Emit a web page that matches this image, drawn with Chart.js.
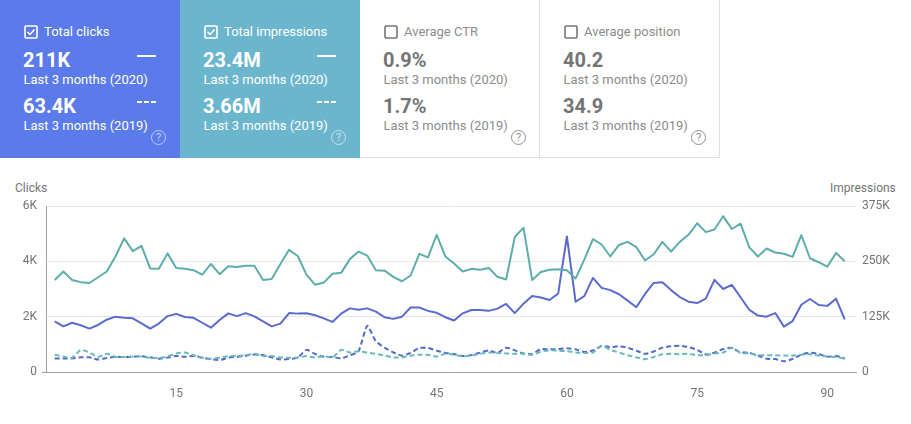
<!DOCTYPE html>
<html lang="en">
  <head>
    <meta charset="UTF-8" />
    <title>Search performance</title>
    <script src="https://cdnjs.cloudflare.com/ajax/libs/Chart.js/4.4.1/chart.umd.js"></script>
    <style>
      html, body { margin: 0; padding: 0; background: #fff; overflow: hidden; }
      body { width: 911px; height: 424px; position: relative; font-family: Roboto, Arial, sans-serif; }
      .card { position: absolute; top: 0; width: 180px; height: 158px; box-sizing: border-box; color: #757575; }
      .card.blue { left: 0; background: #5b7bea; color: #fff; }
      .card.teal { left: 180px; background: #6cb6cd; color: #fff; }
      .card.ctr { left: 360px; border-bottom: 1px solid #e0e0e0; border-right: 1px solid #e0e0e0; }
      .card.pos { left: 540px; border-bottom: 1px solid #e0e0e0; border-right: 1px solid #e0e0e0; }
      .card div, .card svg { position: absolute; white-space: nowrap; }
      .ctr .name, .pos .name, .ctr .sub, .pos .sub { color: #8c8c8c; }
      .box { left: 24px; top: 25px; width: 14px; height: 14px; }
      .name { left: 44px; top: 24px; font-size: 13px; line-height: 15px; }
      .val { left: 23px; font-size: 20px; line-height: 24px; font-weight: 700; }
      .sub { left: 23.5px; font-size: 13px; line-height: 15px; }
      .v1 { top: 48px; } .s1 { top: 72px; } .v2 { top: 94px; } .s2 { top: 118px; }
      .key { left: 137px; width: 19px; height: 2px; }
      .k1 { top: 55px; background: #fff; }
      .k2 { top: 101px; background: repeating-linear-gradient(to right, #fff 0, #fff 5px, transparent 5px, transparent 7px); }
      .help { left: 151px; top: 130px; width: 13px; height: 13px; border: 1px solid; border-radius: 50%; font-size: 11px; line-height: 13px; text-align: center; opacity: 0.8; }
      .blue .help, .teal .help { opacity: 0.6; }
      .axis-name { position: absolute; top: 181px; font-size: 12px; line-height: 14px; color: #757575; }
      #wrap { position: absolute; left: 0; top: 171px; width: 911px; height: 240px; }
    </style>
  </head>
  <body>
    <div class="card blue">
      <svg class="box" viewBox="0 0 14 14"><rect x="1" y="1" width="12" height="12" rx="1" fill="none" stroke="#fff" stroke-width="1.6"/><path d="M3.5 7l2.5 2.5 4.5-5" fill="none" stroke="#fff" stroke-width="1.5"/></svg>
      <div class="name">Total clicks</div>
      <div class="val v1">211K</div><div class="key k1"></div>
      <div class="sub s1">Last 3 months (2020)</div>
      <div class="val v2">63.4K</div><div class="key k2"></div>
      <div class="sub s2">Last 3 months (2019)</div>
      <div class="help">?</div>
    </div>
    <div class="card teal">
      <svg class="box" viewBox="0 0 14 14"><rect x="1" y="1" width="12" height="12" rx="1" fill="none" stroke="#fff" stroke-width="1.6"/><path d="M3.5 7l2.5 2.5 4.5-5" fill="none" stroke="#fff" stroke-width="1.5"/></svg>
      <div class="name">Total impressions</div>
      <div class="val v1">23.4M</div><div class="key k1"></div>
      <div class="sub s1">Last 3 months (2020)</div>
      <div class="val v2">3.66M</div><div class="key k2"></div>
      <div class="sub s2">Last 3 months (2019)</div>
      <div class="help">?</div>
    </div>
    <div class="card ctr">
      <svg class="box" viewBox="0 0 14 14"><rect x="1" y="1" width="12" height="12" rx="1" fill="none" stroke="#757575" stroke-width="1.6"/></svg>
      <div class="name">Average CTR</div>
      <div class="val v1">0.9%</div>
      <div class="sub s1">Last 3 months (2020)</div>
      <div class="val v2">1.7%</div>
      <div class="sub s2">Last 3 months (2019)</div>
      <div class="help">?</div>
    </div>
    <div class="card pos">
      <svg class="box" viewBox="0 0 14 14"><rect x="1" y="1" width="12" height="12" rx="1" fill="none" stroke="#757575" stroke-width="1.6"/></svg>
      <div class="name">Average position</div>
      <div class="val v1">40.2</div>
      <div class="sub s1">Last 3 months (2020)</div>
      <div class="val v2">34.9</div>
      <div class="sub s2">Last 3 months (2019)</div>
      <div class="help">?</div>
    </div>

    <span class="axis-name" style="left: 15px">Clicks</span>
    <span class="axis-name" style="left: 830px">Impressions</span>
    <div id="wrap"><canvas id="chart" width="911" height="240"></canvas></div>

    <script>
      const clicks2020 = [1830, 1650, 1780, 1690, 1570, 1700, 1890, 2000, 1960, 1940, 1760, 1570, 1750, 2020, 2100, 1990, 1960, 1780, 1600, 1880, 2120, 2020, 2130, 2010, 1830, 1650, 1750, 2130, 2110, 2120, 2050, 1940, 1810, 2110, 2300, 2250, 2300, 2180, 1980, 1920, 2000, 2330, 2330, 2210, 2140, 1980, 1860, 2120, 2240, 2240, 2210, 2290, 2460, 2130, 2470, 2750, 2690, 2600, 2840, 4900, 2540, 2740, 3400, 3040, 2960, 2810, 2580, 2340, 2820, 3220, 3240, 2960, 2710, 2540, 2490, 2650, 3330, 3000, 3150, 2700, 2250, 2040, 2000, 2130, 1640, 1840, 2430, 2640, 2420, 2390, 2650, 1900];
      const clicks2019 = [490, 490, 490, 530, 530, 450, 510, 550, 540, 550, 570, 530, 480, 520, 580, 550, 580, 520, 460, 430, 520, 550, 590, 630, 610, 530, 450, 470, 520, 800, 650, 550, 540, 490, 600, 750, 1670, 1110, 880, 710, 590, 690, 870, 870, 770, 690, 650, 580, 610, 700, 780, 690, 880, 780, 670, 650, 830, 820, 830, 860, 820, 720, 780, 940, 900, 930, 880, 770, 660, 740, 880, 930, 950, 900, 800, 630, 700, 830, 870, 710, 700, 590, 480, 470, 390, 470, 630, 700, 650, 550, 580, 490];
      const impressions2020 = [208, 227, 208, 203, 201, 214, 227, 261, 302, 273, 285, 234, 233, 268, 235, 233, 230, 220, 244, 221, 239, 237, 240, 240, 208, 210, 244, 276, 262, 220, 197, 202, 222, 224, 255, 272, 263, 230, 229, 215, 205, 218, 267, 259, 310, 261, 245, 227, 233, 231, 235, 215, 209, 305, 326, 208, 226, 231, 232, 230, 211, 254, 300, 288, 261, 287, 294, 282, 252, 266, 294, 272, 294, 310, 336, 316, 322, 352, 323, 335, 282, 261, 279, 270, 267, 260, 309, 257, 248, 238, 269, 250];
      const impressions2019 = [39, 35, 32, 50, 44, 34, 41, 34, 34, 35, 35, 32, 32, 35, 42, 44, 38, 32, 30, 32, 36, 36, 38, 41, 36, 36, 33, 32, 33, 36, 33, 36, 33, 50, 44, 47, 44, 41, 37, 33, 33, 37, 39, 39, 35, 41, 39, 35, 37, 41, 44, 43, 42, 41, 41, 39, 46, 49, 48, 47, 44, 43, 44, 59, 50, 44, 38, 33, 29, 34, 40, 41, 40, 41, 38, 38, 42, 44, 54, 43, 42, 38, 38, 38, 37, 37, 39, 40, 37, 35, 34, 30];
      const clickTicks = [0, 2000, 4000, 6000];
      const impressionTicks = [0, 125, 250, 375];

      const days = clicks2020.map((_, i) => i + 1);
      const toPoints = (values) => values.map((v, i) => ({ x: days[i], y: v }));

      const tickFont = { family: "Roboto", size: 12 };
      const grey = "#757575";

      new Chart(document.getElementById("chart"), {
        type: "line",
        data: {
          datasets: [
            {
              data: toPoints(impressions2019),
              yAxisID: "y1",
              borderColor: "#68b9bd",
              borderDash: [5, 3],
              tension: 0.2,
            },
            {
              data: toPoints(clicks2019),
              yAxisID: "y",
              borderColor: "#5469c9",
              borderDash: [5, 3],
              tension: 0.2,
            },
            {
              data: toPoints(impressions2020),
              yAxisID: "y1",
              borderColor: "#5dadaa",
            },
            {
              data: toPoints(clicks2020),
              yAxisID: "y",
              borderColor: "#5a6acf",
            },
          ],
        },
        options: {
          responsive: false,
          animation: false,
          layout: { padding: { top: 35 } },
          elements: { point: { radius: 0 }, line: { borderWidth: 2, borderJoinStyle: "round" } },
          plugins: { legend: { display: false }, tooltip: { enabled: false } },
          scales: {
            x: {
              type: "linear",
              min: 0,
              max: 93.3,
              grid: { display: false },
              border: { color: "#9e9e9e" },
              afterFit: (scale) => { scale.height = 39; },
              ticks: {
                stepSize: 15,
                includeBounds: false,
                maxRotation: 0,
                padding: 7,
                color: grey,
                font: tickFont,
                callback: (v) => (v === 0 ? "" : v),
              },
            },
            y: {
              position: "left",
              min: 0,
              max: 6000,
              afterFit: (scale) => { scale.width = 46; },
              afterBuildTicks: (scale) => { scale.ticks = clickTicks.map((value) => ({ value })); },
              border: { color: "#9e9e9e" },
              grid: {
                color: (c) => (c.tick.value === 0 ? "#9e9e9e" : "#e8e8e8"),
                tickColor: (c) => (c.tick.value === 0 ? "#9e9e9e" : "transparent"),
                tickLength: 4,
              },
              ticks: {
                padding: 5,
                color: grey,
                font: tickFont,
                callback: (v) => (v === 0 ? "0" : v / 1000 + "K"),
              },
            },
            y1: {
              position: "right",
              min: 0,
              max: 375,
              afterFit: (scale) => { scale.width = 55; },
              afterBuildTicks: (scale) => { scale.ticks = impressionTicks.map((value) => ({ value })); },
              border: { display: false },
              grid: { display: false, drawTicks: false },
              ticks: {
                padding: 6,
                color: grey,
                font: tickFont,
                callback: (v) => (v === 0 ? "0" : v + "K"),
              },
            },
          },
        },
      });
    </script>
  </body>
</html>
